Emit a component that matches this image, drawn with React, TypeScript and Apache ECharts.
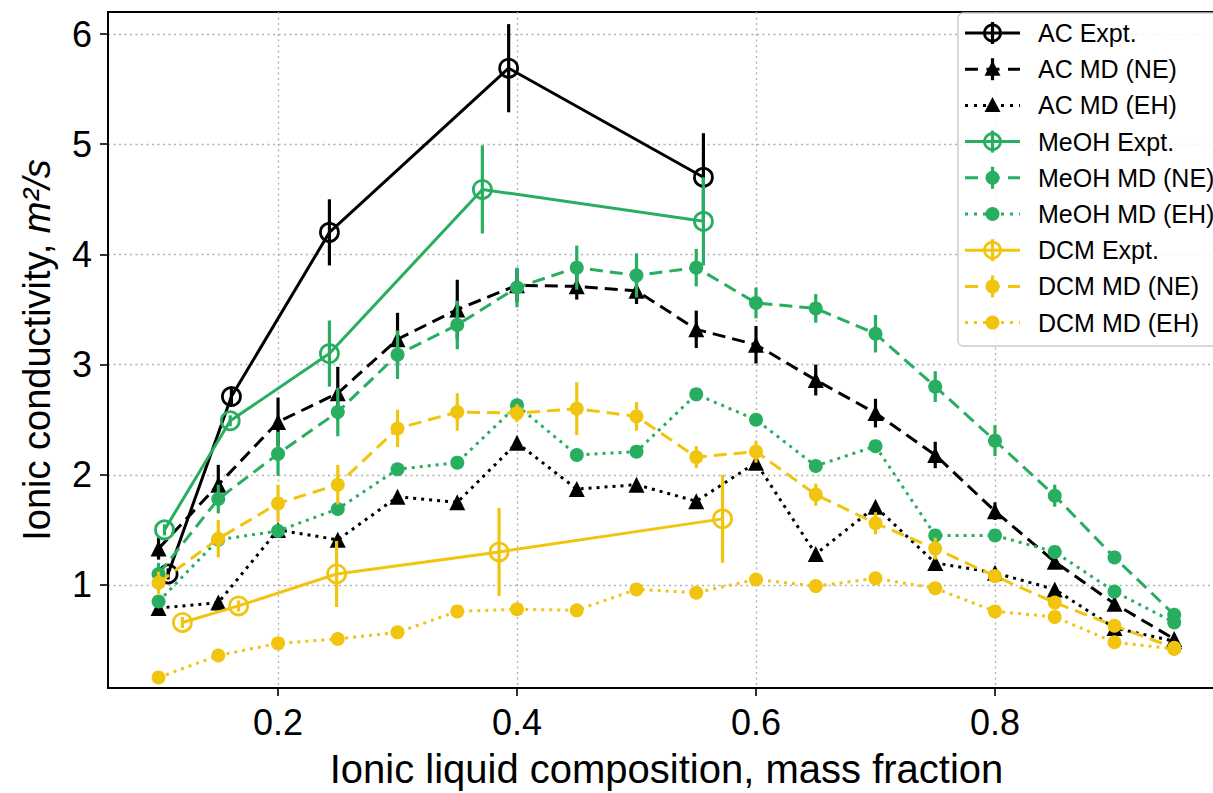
import React, { useEffect, useRef } from "react";
import * as echarts from "echarts";

const X_MD = [0.1, 0.15, 0.2, 0.25, 0.3, 0.35, 0.4, 0.45, 0.5, 0.55, 0.6, 0.65, 0.7, 0.75, 0.8, 0.85, 0.9, 0.95];

const AC_EXPT_X = [0.108, 0.161, 0.243, 0.393, 0.556];
const AC_EXPT_Y = [1.1, 2.71, 4.2, 5.69, 4.7];
const AC_EXPT_ERR = [0.05, 0.08, 0.3, 0.4, 0.4];

const MEOH_EXPT_X = [0.105, 0.16, 0.243, 0.371, 0.556];
const MEOH_EXPT_Y = [1.5, 2.49, 3.1, 4.59, 4.3];
const MEOH_EXPT_ERR = [0.05, 0.05, 0.3, 0.4, 0.4];

const DCM_EXPT_X = [0.12, 0.167, 0.249, 0.385, 0.572];
const DCM_EXPT_Y = [0.66, 0.81, 1.1, 1.3, 1.6];
const DCM_EXPT_ERR = [0.05, 0.05, 0.3, 0.4, 0.4];

const AC_NE_Y = [1.33, 1.91, 2.48, 2.74, 3.23, 3.5, 3.72, 3.71, 3.67, 3.32, 3.18, 2.86, 2.56, 2.18, 1.67, 1.21, 0.83, 0.51];
const AC_NE_ERR = [0.1, 0.18, 0.22, 0.24, 0.24, 0.27, 0.15, 0.12, 0.12, 0.17, 0.17, 0.14, 0.13, 0.12, 0.08, 0.06, 0.05, 0.04];
const AC_EH_Y = [0.79, 0.84, 1.5, 1.41, 1.8, 1.75, 2.29, 1.87, 1.91, 1.76, 2.11, 1.28, 1.71, 1.2, 1.11, 0.96, 0.61, 0.49];

const MEOH_NE_Y = [1.1, 1.78, 2.19, 2.57, 3.09, 3.36, 3.7, 3.88, 3.81, 3.88, 3.56, 3.51, 3.28, 2.8, 2.31, 1.81, 1.25, 0.73];
const MEOH_NE_ERR = [0.1, 0.13, 0.2, 0.22, 0.22, 0.22, 0.18, 0.2, 0.2, 0.17, 0.14, 0.13, 0.17, 0.14, 0.14, 0.1, 0.06, 0.04];
const MEOH_EH_Y = [0.85, 1.41, 1.49, 1.69, 2.05, 2.11, 2.63, 2.18, 2.21, 2.73, 2.5, 2.08, 2.26, 1.45, 1.45, 1.3, 0.94, 0.66];

const DCM_NE_Y = [1.02, 1.42, 1.74, 1.91, 2.42, 2.57, 2.56, 2.6, 2.53, 2.16, 2.21, 1.82, 1.56, 1.33, 1.08, 0.84, 0.63, 0.43];
const DCM_NE_ERR = [0.1, 0.17, 0.17, 0.18, 0.17, 0.17, 0.08, 0.24, 0.13, 0.1, 0.1, 0.1, 0.1, 0.1, 0.06, 0.06, 0.05, 0.03];
const DCM_EH_Y = [0.16, 0.36, 0.47, 0.51, 0.57, 0.76, 0.78, 0.77, 0.96, 0.93, 1.05, 0.99, 1.06, 0.97, 0.76, 0.71, 0.48, 0.42];

const X_TICKS = [0.2, 0.4, 0.6, 0.8];
const Y_TICKS = [1, 2, 3, 4, 5, 6];

const BLACK = "#000000";
const GREEN = "#27ae60";
const YELLOW = "#f1c40f";
const FONT = "Liberation Sans, Arial, Helvetica, sans-serif";

const LW = 3;
const DASH = [13, 7];
const DOT = [3, 5];

type Kind = "expt" | "ne" | "eh";
interface Item {
  name: string;
  color: string;
  kind: Kind;
  marker: "open" | "triangle" | "dot";
  xs: number[];
  ys: number[];
  err?: number[];
}

const ITEMS: Item[] = [
  { name: "AC Expt.", color: BLACK, kind: "expt", marker: "open", xs: AC_EXPT_X, ys: AC_EXPT_Y, err: AC_EXPT_ERR },
  { name: "AC MD (NE)", color: BLACK, kind: "ne", marker: "triangle", xs: X_MD, ys: AC_NE_Y, err: AC_NE_ERR },
  { name: "AC MD (EH)", color: BLACK, kind: "eh", marker: "triangle", xs: X_MD, ys: AC_EH_Y },
  { name: "MeOH Expt.", color: GREEN, kind: "expt", marker: "open", xs: MEOH_EXPT_X, ys: MEOH_EXPT_Y, err: MEOH_EXPT_ERR },
  { name: "MeOH MD (NE)", color: GREEN, kind: "ne", marker: "dot", xs: X_MD, ys: MEOH_NE_Y, err: MEOH_NE_ERR },
  { name: "MeOH MD (EH)", color: GREEN, kind: "eh", marker: "dot", xs: X_MD, ys: MEOH_EH_Y },
  { name: "DCM Expt.", color: YELLOW, kind: "expt", marker: "open", xs: DCM_EXPT_X, ys: DCM_EXPT_Y, err: DCM_EXPT_ERR },
  { name: "DCM MD (NE)", color: YELLOW, kind: "ne", marker: "dot", xs: X_MD, ys: DCM_NE_Y, err: DCM_NE_ERR },
  { name: "DCM MD (EH)", color: YELLOW, kind: "eh", marker: "dot", xs: X_MD, ys: DCM_EH_Y },
];

function lineTypeOf(kind: Kind): any {
  return kind === "expt" ? "solid" : kind === "ne" ? DASH : DOT;
}

function buildSeries(): any[] {
  const out: any[] = [];
  ITEMS.forEach((it, idx) => {
    const lineType = lineTypeOf(it.kind);
    out.push({
      name: it.name,
      type: "line",
      z: 2 + idx,
      data: it.xs.map((x, i) => [x, it.ys[i]]),
      lineStyle: { color: it.color, width: LW, type: lineType },
      symbol: it.marker === "triangle" ? "triangle" : "circle",
      symbolSize: it.marker === "open" ? 18 : it.marker === "triangle" ? 16 : 14,
      showSymbol: true,
      itemStyle:
        it.marker === "open"
          ? { color: "rgba(0,0,0,0)", borderColor: it.color, borderWidth: 2.8 }
          : { color: it.color, borderWidth: 0 },
      emphasis: { disabled: true },
      silent: true,
    });
    if (it.err) {
      const err = it.err;
      const color = it.color;
      out.push({
        name: it.name + " err",
        type: "custom",
        z: 2 + idx,
        silent: true,
        data: it.xs.map((x, i) => [x, it.ys[i], err[i]]),
        encode: { x: 0, y: 1 },
        renderItem: (params: any, api: any) => {
          const x = api.value(0);
          const y = api.value(1);
          const e = api.value(2);
          const p1 = api.coord([x, y - e]);
          const p2 = api.coord([x, y + e]);
          return {
            type: "line",
            shape: { x1: p1[0], y1: p1[1], x2: p2[0], y2: p2[1] },
            style: { stroke: color, lineWidth: 3.2 },
          };
        },
      });
    }
  });
  return out;
}

function buildLegend(): any[] {
  const left = 958;
  const top = 13;
  const rowH = 36.2;
  const firstY = 33;
  const els: any[] = [];
  els.push({
    type: "rect",
    shape: { x: left, y: top, width: 280, height: 333, r: 5 },
    style: { fill: "rgba(255,255,255,0.85)", stroke: "#cccccc", lineWidth: 1.5 },
    z: 100,
  });
  ITEMS.forEach((it, i) => {
    const cy = firstY + i * rowH;
    const x1 = 965;
    const x2 = 1020;
    const cx = 992.5;
    els.push({
      type: "line",
      shape: { x1, y1: cy, x2, y2: cy },
      style: {
        stroke: it.color,
        lineWidth: LW,
        lineDash: it.kind === "expt" ? null : it.kind === "ne" ? [13, 8.5] : [3, 6],
      },
      z: 101,
    });
    if (it.err) {
      els.push({
        type: "line",
        shape: { x1: cx, y1: cy - 11, x2: cx, y2: cy + 11 },
        style: { stroke: it.color, lineWidth: 3.2 },
        z: 101,
      });
    }
    if (it.marker === "open") {
      els.push({
        type: "circle",
        shape: { cx, cy, r: 8 },
        style: { fill: "rgba(0,0,0,0)", stroke: it.color, lineWidth: 2.8 },
        z: 102,
      });
    } else if (it.marker === "dot") {
      els.push({
        type: "circle",
        shape: { cx, cy, r: 7 },
        style: { fill: it.color },
        z: 102,
      });
    } else {
      els.push({
        type: "polygon",
        shape: { points: [[cx, cy - 8.5], [cx - 8, cy + 6.5], [cx + 8, cy + 6.5]] },
        style: { fill: it.color },
        z: 102,
      });
    }
    els.push({
      type: "text",
      x: 1038,
      y: cy,
      style: {
        text: it.name,
        fill: "#000",
        font: `25px ${FONT}`,
        verticalAlign: "middle",
        align: "left",
      },
      z: 103,
    });
  });
  return els;
}

export default function App() {
  const ref = useRef<HTMLDivElement>(null);
  useEffect(() => {
    if (!ref.current) return;
    const chart = echarts.init(ref.current, undefined, { renderer: "svg" });
    const option: any = {
      animation: false,
      backgroundColor: "#ffffff",
      textStyle: { fontFamily: FONT },
      grid: {
        left: 108,
        top: 12,
        width: 1117,
        height: 676,
        show: true,
        borderColor: "#000",
        borderWidth: 2,
        backgroundColor: "transparent",
        containLabel: false,
        outerBoundsMode: "none",
      },
      xAxis: {
        type: "value",
        min: 0.0577,
        max: 0.9925,
        name: "Ionic liquid composition, mass fraction",
        nameLocation: "middle",
        nameGap: 61,
        nameTextStyle: { fontSize: 40, color: "#000", fontFamily: FONT },
        axisLine: { show: true, lineStyle: { color: "#000", width: 2 } },
        axisTick: { show: true, inside: false, length: 8, lineStyle: { color: "#000", width: 1.6 }, customValues: X_TICKS },
        axisLabel: {
          customValues: X_TICKS,
          fontSize: 36,
          color: "#000",
          margin: 16,
          fontFamily: FONT,
          formatter: (v: number) => v.toFixed(1),
        },
        splitLine: { show: true, lineStyle: { color: "#b0b0b0", width: 1.3, type: [2, 3.5] } },
      },
      yAxis: {
        type: "value",
        min: 0.065,
        max: 6.2,
        name: "Ionic conductivity, {i|m²/s}",
        nameLocation: "middle",
        nameGap: 52,
        nameRotate: 90,
        nameTextStyle: {
          fontSize: 38,
          color: "#000",
          fontFamily: FONT,
          rich: { i: { fontSize: 38, fontStyle: "italic", color: "#000", fontFamily: FONT } },
        },
        axisLine: { show: true, lineStyle: { color: "#000", width: 2 } },
        axisTick: { show: true, inside: false, length: 8, lineStyle: { color: "#000", width: 1.6 }, customValues: Y_TICKS },
        axisLabel: {
          customValues: Y_TICKS,
          fontSize: 36,
          color: "#000",
          margin: 16,
          fontFamily: FONT,
          formatter: (v: number) => String(Math.round(v)),
        },
        splitLine: { show: true, lineStyle: { color: "#b0b0b0", width: 1.3, type: [2, 3.5] } },
      },
      series: buildSeries(),
      graphic: { elements: buildLegend() },
    };
    chart.setOption(option);
    return () => chart.dispose();
  }, []);
  return (
    <div
      ref={ref}
      style={{ position: "absolute", left: 0, top: 0, width: 1213, height: 793, background: "#fff" }}
    />
  );
}
